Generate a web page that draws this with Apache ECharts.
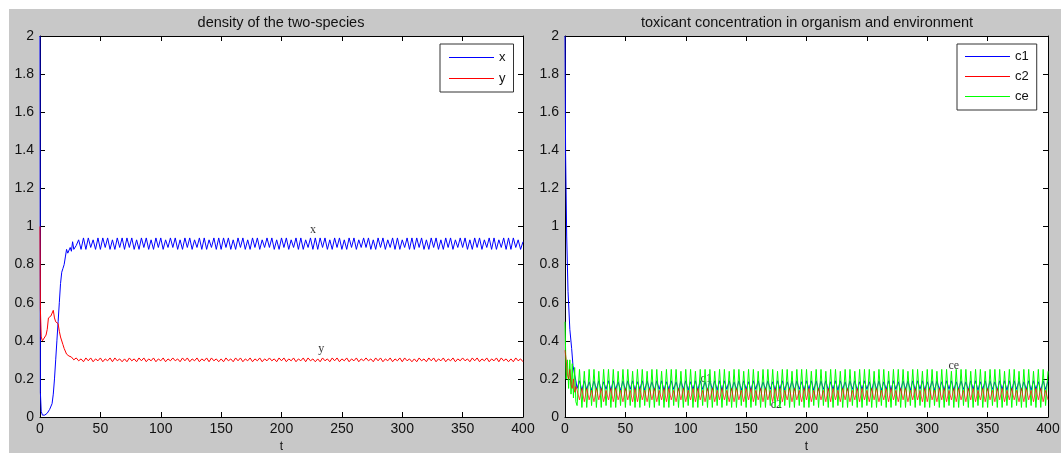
<!DOCTYPE html>
<html>
<head>
<meta charset="utf-8">
<script src="https://cdn.jsdelivr.net/npm/echarts@6/dist/echarts.min.js"></script>
<style>
html,body{margin:0;padding:0;background:#fff;width:1061px;height:453px;overflow:hidden;}
#c{position:absolute;left:9px;top:9px;width:1052px;height:444px;}
</style>
</head>
<body>
<div id="c"></div>
<script>
// ---------- data ----------
var xTicks = [0, 50, 100, 150, 200, 250, 300, 350, 400];
var titles = ['density of the two-species', 'toxicant concentration in organism and environment'];
var legendLeft = ['x', 'y'];
var legendRight = ['c1', 'c2', 'ce'];

// early transients as [t, value]
var xEarly = [[0,2],[0.3,0.13],[1,0.03],[2,0.01],[4,0.01],[6,0.02],[8,0.04],[10,0.07],[11,0.12],[12,0.2],[13,0.3],[14,0.4],[15,0.5],[16,0.6],[17,0.7],[18,0.76],[19,0.78],[20,0.8],[21,0.84],[22,0.88],[23,0.86],[24,0.85],[25,0.89],[26,0.87],[27,0.92],[28,0.88]];
var yEarly = [[0,1],[0.3,0.57],[1,0.42],[2,0.4],[3,0.41],[5,0.43],[6,0.46],[7,0.52],[8,0.51],[9,0.53],[10,0.54],[11,0.56],[12,0.52],[13,0.5],[14,0.5],[15,0.49],[16,0.45],[17,0.42],[18,0.41],[19,0.38],[20,0.36],[21,0.35],[22,0.33],[24,0.32],[26,0.315],[28,0.3]];
var c1Early = [[0,2],[0.5,1.38],[1.4,0.95],[2.5,0.66],[4,0.46],[5.5,0.36],[6.6,0.27],[8,0.22],[9,0.19]];
var c2Early = [[0,0.35],[1,0.3],[2,0.22],[3,0.2],[4,0.25],[5,0.17],[6,0.15],[7,0.2],[8,0.13],[9,0.16]];
var ceEarly = [[0,0.5],[0.5,0.35],[1,0.2],[2,0.3],[3,0.15],[4,0.3],[5,0.12],[6,0.28],[7,0.1],[8,0.26],[9,0.08]];

// steady oscillation, sampled every 2 time units
var xStart = 30, yStart = 30, cStart = 10, step = 2;
var xSteady = [
.90,.93,.88,.94,.88,.94,.89,.93,.88,.94,.88,.94,.89,.94,.88,.93,.88,.94,.89,.94,
.88,.94,.89,.94,.88,.93,.88,.94,.89,.94,.88,.93,.88,.94,.89,.94,.88,.93,.89,.94,
.89,.94,.88,.93,.88,.94,.89,.94,.88,.93,.89,.94,.88,.94,.88,.93,.89,.94,.88,.94,
.88,.94,.89,.94,.88,.93,.88,.94,.89,.94,.88,.93,.88,.94,.89,.94,.88,.93,.89,.94,
.89,.94,.88,.93,.88,.94,.89,.94,.88,.93,.89,.94,.88,.94,.88,.93,.89,.94,.88,.94,
.88,.94,.89,.94,.88,.93,.88,.94,.89,.94,.88,.93,.88,.94,.89,.94,.88,.93,.89,.94,
.89,.94,.88,.93,.88,.94,.89,.94,.88,.93,.89,.94,.88,.94,.88,.93,.89,.94,.88,.94,
.88,.94,.89,.94,.88,.93,.88,.94,.89,.94,.88,.93,.88,.94,.89,.94,.88,.93,.89,.94,
.89,.94,.88,.93,.88,.94,.89,.94,.88,.93,.89,.94,.88,.94,.88,.93,.89,.94,.88,.94,
.88,.94,.89,.93,.88,.92];
var ySteady = [
.31,.295,.305,.29,.31,.295,.31,.29,.305,.295,.31,.29,.305,.295,.31,.29,.31,.295,.305,.29,
.305,.29,.31,.295,.305,.29,.31,.295,.31,.29,.305,.295,.31,.29,.305,.295,.31,.29,.305,.295,
.31,.295,.305,.29,.31,.295,.31,.29,.305,.295,.31,.29,.305,.295,.31,.29,.31,.295,.305,.29,
.305,.29,.31,.295,.305,.29,.31,.295,.31,.29,.305,.295,.31,.29,.305,.295,.31,.29,.305,.295,
.31,.295,.305,.29,.31,.295,.31,.29,.305,.295,.31,.29,.305,.295,.31,.29,.31,.295,.305,.29,
.305,.29,.31,.295,.305,.29,.31,.295,.31,.29,.305,.295,.31,.29,.305,.295,.31,.29,.305,.295,
.31,.295,.305,.29,.31,.295,.31,.29,.305,.295,.31,.29,.305,.295,.31,.29,.31,.295,.305,.29,
.305,.29,.31,.295,.305,.29,.31,.295,.31,.29,.305,.295,.31,.29,.305,.295,.31,.29,.305,.295,
.31,.295,.305,.29,.31,.295,.31,.29,.305,.295,.31,.29,.305,.295,.31,.29,.31,.295,.305,.29,
.305,.29,.31,.295,.305,.29];
var c1Steady = [
.15,.19,.14,.19,.145,.185,.14,.19,.145,.19,.14,.185,.145,.19,.14,.19,.145,.185,.14,.19,
.14,.19,.145,.19,.14,.185,.145,.19,.14,.19,.145,.185,.14,.19,.145,.19,.14,.185,.145,.19,
.145,.185,.14,.19,.145,.19,.14,.185,.145,.19,.14,.19,.145,.185,.14,.19,.145,.19,.14,.19,
.14,.19,.145,.19,.14,.185,.145,.19,.14,.19,.145,.185,.14,.19,.145,.19,.14,.185,.145,.19,
.145,.185,.14,.19,.145,.19,.14,.185,.145,.19,.14,.19,.145,.185,.14,.19,.145,.19,.14,.19,
.14,.19,.145,.19,.14,.185,.145,.19,.14,.19,.145,.185,.14,.19,.145,.19,.14,.185,.145,.19,
.145,.185,.14,.19,.145,.19,.14,.185,.145,.19,.14,.19,.145,.185,.14,.19,.145,.19,.14,.19,
.14,.19,.145,.19,.14,.185,.145,.19,.14,.19,.145,.185,.14,.19,.145,.19,.14,.185,.145,.19,
.145,.185,.14,.19,.145,.19,.14,.185,.145,.19,.14,.19,.145,.185,.14,.19,.145,.19,.14,.19,
.14,.19,.145,.19,.14,.185,.145,.19,.14,.19,.145,.185,.14,.19,.145,.19];
var c2Steady = [
.14,.09,.15,.08,.15,.09,.14,.08,.15,.09,.15,.08,.14,.09,.15,.08,.15,.09,.14,.08,
.15,.09,.14,.08,.15,.08,.15,.09,.14,.08,.15,.09,.15,.08,.14,.09,.15,.08,.15,.09,
.14,.08,.15,.09,.15,.08,.14,.09,.15,.08,.15,.09,.14,.08,.15,.09,.15,.08,.14,.09,
.15,.09,.14,.08,.15,.08,.15,.09,.14,.08,.15,.09,.15,.08,.14,.09,.15,.08,.15,.09,
.14,.08,.15,.09,.15,.08,.14,.09,.15,.08,.15,.09,.14,.08,.15,.09,.15,.08,.14,.09,
.15,.09,.14,.08,.15,.08,.15,.09,.14,.08,.15,.09,.15,.08,.14,.09,.15,.08,.15,.09,
.14,.08,.15,.09,.15,.08,.14,.09,.15,.08,.15,.09,.14,.08,.15,.09,.15,.08,.14,.09,
.15,.09,.14,.08,.15,.08,.15,.09,.14,.08,.15,.09,.15,.08,.14,.09,.15,.08,.15,.09,
.14,.08,.15,.09,.15,.08,.14,.09,.15,.08,.15,.09,.14,.08,.15,.09,.15,.08,.14,.09,
.15,.09,.14,.08,.15,.08,.15,.09,.14,.08,.15,.09,.15,.08,.14,.09];
var ceSteady = [
.06,.25,.05,.24,.05,.25,.06,.25,.05,.24,.05,.25,.06,.25,.05,.25,.05,.24,.06,.25,
.05,.25,.06,.24,.05,.25,.05,.25,.06,.24,.05,.25,.05,.25,.06,.24,.05,.25,.05,.25,
.06,.25,.05,.24,.05,.25,.06,.25,.05,.24,.05,.25,.06,.25,.05,.25,.05,.24,.06,.25,
.05,.25,.06,.24,.05,.25,.05,.25,.06,.24,.05,.25,.05,.25,.06,.24,.05,.25,.05,.25,
.06,.25,.05,.24,.05,.25,.06,.25,.05,.24,.05,.25,.06,.25,.05,.25,.05,.24,.06,.25,
.05,.25,.06,.24,.05,.25,.05,.25,.06,.24,.05,.25,.05,.25,.06,.24,.05,.25,.05,.25,
.06,.25,.05,.24,.05,.25,.06,.25,.05,.24,.05,.25,.06,.25,.05,.25,.05,.24,.06,.25,
.05,.25,.06,.24,.05,.25,.05,.25,.06,.24,.05,.25,.05,.25,.06,.24,.05,.25,.05,.25,
.06,.25,.05,.24,.05,.25,.06,.25,.05,.24,.05,.25,.06,.25,.05,.25,.05,.24,.06,.25,
.05,.25,.06,.24,.05,.25,.05,.25,.06,.24,.05,.25,.05,.25,.06,.24];

// in-plot text annotations [t, value, text]
var notesLeft = [[226, 0.985, 'x'], [233, 0.36, 'y']];
var notesRight = [[117, 0.2, 'c1'], [175, 0.065, 'c2'], [322, 0.27, 'ce']];

// ---------- build ----------
function join(early, steady, start) {
  return early.concat(steady.map(function (v, i) { return [start + step * i, v]; }));
}
var FONT = 'Liberation Sans, Arial, sans-serif';
function xAx(grid, pos, showLabel) {
  return {
    type: 'value', gridIndex: grid, position: pos, min: 0, max: 400, interval: 50,
    axisLine: { show: true, onZero: false, lineStyle: { color: '#000', width: 1 } },
    axisTick: { show: true, inside: true, length: 5, lineStyle: { color: '#000' } },
    axisLabel: { show: showLabel, margin: 5, fontSize: 14, color: '#111', fontFamily: FONT },
    splitLine: { show: false },
    name: showLabel ? 't' : '', nameLocation: 'middle', nameGap: 24,
    nameTextStyle: { fontSize: 12, color: '#111', fontFamily: FONT }
  };
}
function yAx(grid, pos, showLabel) {
  return {
    type: 'value', gridIndex: grid, position: pos, min: 0, max: 2, interval: 0.2,
    axisLine: { show: true, onZero: false, lineStyle: { color: '#000', width: 1 } },
    axisTick: { show: true, inside: true, length: 5, lineStyle: { color: '#000' } },
    axisLabel: { show: showLabel, margin: 6, fontSize: 14, color: '#111', fontFamily: FONT },
    splitLine: { show: false }
  };
}
function line(name, data, color, xi, yi, opacity) {
  return {
    name: name, type: 'line', xAxisIndex: xi, yAxisIndex: yi, data: data,
    showSymbol: false, symbol: 'none', sampling: null,
    lineStyle: { color: color, width: 1, opacity: opacity || 1 }, itemStyle: { color: color },
    animation: false
  };
}
function notes(arr, xi, yi) {
  return {
    type: 'scatter', xAxisIndex: xi, yAxisIndex: yi, symbolSize: 0, silent: true,
    itemStyle: { color: 'transparent' }, animation: false, legendHoverLink: false,
    data: arr.map(function (n) { return [n[0], n[1], n[2]]; }),
    label: { show: true, position: 'inside', formatter: function (p) { return p.value[2]; },
      fontSize: 12, color: '#000', fontFamily: 'Liberation Serif, Times New Roman, serif' }
  };
}

var chart = echarts.init(document.getElementById('c'), null, { renderer: 'canvas' });
chart.setOption({
  backgroundColor: '#c8c8c8',
  animation: false,
  title: [
    { text: titles[0], left: 267, top: 1, textAlign: 'center',
      textStyle: { fontSize: 14.5, fontWeight: 'normal', color: '#111', fontFamily: FONT } },
    { text: titles[1], left: 793, top: 1, textAlign: 'center',
      textStyle: { fontSize: 14.5, fontWeight: 'normal', color: '#111', fontFamily: FONT } }
  ],
  grid: [
    { left: 31, top: 27, width: 483, height: 381, show: true, backgroundColor: '#fff', borderWidth: 0,
      containLabel: false, outerBoundsMode: 'none' },
    { left: 556, top: 27, width: 483, height: 381, show: true, backgroundColor: '#fff', borderWidth: 0,
      containLabel: false, outerBoundsMode: 'none' }
  ],
  xAxis: [xAx(0, 'bottom', true), xAx(0, 'top', false), xAx(1, 'bottom', true), xAx(1, 'top', false)],
  yAxis: [yAx(0, 'left', true), yAx(0, 'right', false), yAx(1, 'left', true), yAx(1, 'right', false)],
  legend: [
    { data: legendLeft, orient: 'vertical', left: 431, top: 35, icon: 'rect', itemWidth: 45, itemHeight: 1,
      itemGap: 8, padding: [7, 8, 7, 9], backgroundColor: '#fff', borderColor: '#333', borderWidth: 1,
      borderRadius: 0, selectedMode: false,
      textStyle: { fontSize: 13, color: '#111', fontFamily: FONT } },
    { data: legendRight, orient: 'vertical', left: 948, top: 35, icon: 'rect', itemWidth: 45, itemHeight: 1,
      itemGap: 7, padding: [6, 8, 7, 8], backgroundColor: '#fff', borderColor: '#333', borderWidth: 1,
      borderRadius: 0, selectedMode: false,
      textStyle: { fontSize: 13, color: '#111', fontFamily: FONT } }
  ],
  series: [
    line('x', join(xEarly, xSteady, xStart), '#0000ff', 0, 0),
    line('y', join(yEarly, ySteady, yStart), '#ff0000', 0, 0),
    line('c1', join(c1Early, c1Steady, cStart), '#0000ff', 2, 2),
    line('ce', join(ceEarly, ceSteady, cStart), '#00ff00', 2, 2),
    line('c2', join(c2Early, c2Steady, cStart), '#ff0000', 2, 2, 0.7),
    notes(notesLeft, 0, 0),
    notes(notesRight, 2, 2)
  ]
});
</script>
</body>
</html>
